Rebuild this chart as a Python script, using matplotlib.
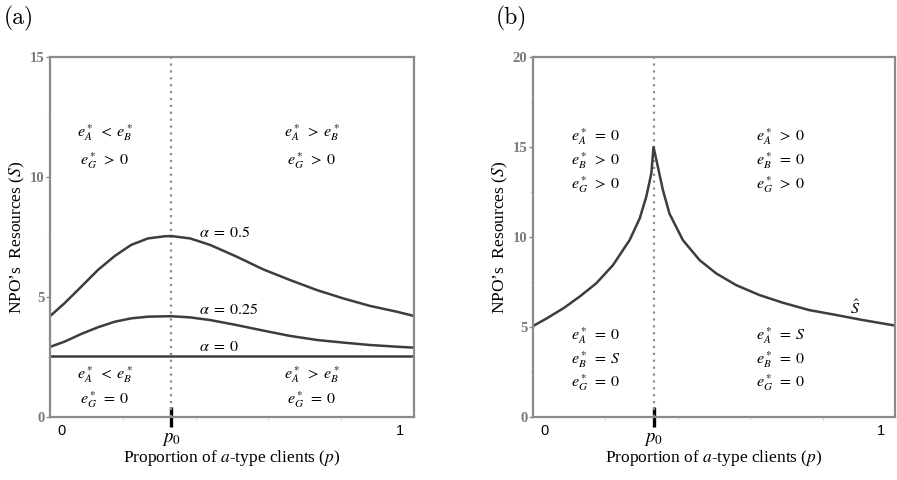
import matplotlib
matplotlib.use("Agg")
import matplotlib.pyplot as plt
from matplotlib.transforms import blended_transform_factory

plt.rcParams["mathtext.fontset"] = "stix"
plt.rcParams["font.family"] = ["Liberation Serif", "DejaVu Serif"]

P0 = 0.333

# panel (a): resources vs proportion for three alpha values
p_a05 = [0.0, 0.040, 0.086, 0.132, 0.178, 0.223, 0.269, 0.315, 0.333, 0.385, 0.440,
         0.513, 0.586, 0.659, 0.733, 0.806, 0.879, 0.952, 1.0]
s_a05 = [4.2, 4.74, 5.43, 6.13, 6.71, 7.17, 7.44, 7.53, 7.54, 7.44, 7.17,
         6.68, 6.15, 5.71, 5.29, 4.94, 4.63, 4.39, 4.21]
p_a025 = [0.0, 0.040, 0.086, 0.132, 0.178, 0.223, 0.269, 0.333, 0.385, 0.440,
          0.513, 0.586, 0.659, 0.733, 0.806, 0.879, 0.952, 1.0]
s_a025 = [2.92, 3.14, 3.46, 3.74, 3.97, 4.11, 4.18, 4.2, 4.15, 4.04,
          3.83, 3.6, 3.38, 3.21, 3.1, 3.0, 2.93, 2.89]
p_a0 = [0.0, 1.0]
s_a0 = [2.55, 2.55]

# panel (b): S-hat threshold
p_hat = [0.0, 0.038, 0.084, 0.129, 0.175, 0.221, 0.267, 0.295, 0.313, 0.327, 0.333,
         0.345, 0.359, 0.377, 0.414, 0.460, 0.506, 0.561, 0.625, 0.690, 0.763,
         0.837, 0.910, 1.0]
s_hat = [5.05, 5.48, 6.04, 6.69, 7.43, 8.44, 9.83, 11.04, 12.24, 13.54, 15.0,
         13.9, 12.6, 11.3, 9.83, 8.72, 7.98, 7.33, 6.78, 6.35, 5.94,
         5.67, 5.39, 5.08]

CURVE = "#3d3d3d"
FRAME = "#8a8a8a"
TXT = 11.5


def style_axes(ax, ymax, yticks):
    ax.set_xlim(0, 1)
    ax.set_ylim(0, ymax)
    for sp in ax.spines.values():
        sp.set_color(FRAME)
        sp.set_linewidth(1.6)
    ax.set_yticks(yticks)
    ax.set_yticklabels([str(t) for t in yticks], fontweight="bold", color="#7a7a7a", fontsize=10.5)
    ax.tick_params(axis="y", length=3, width=1, color=FRAME, pad=1)
    ax.set_yticks([t + 2.5 for t in yticks[:-1]], minor=True)
    ax.set_xticks([0.2, 0.4, 0.6, 0.8], minor=True)
    ax.tick_params(which="minor", length=2.5, width=0.6, color="#cccccc")
    ax.set_xticks([P0])
    ax.set_xticklabels(["$p_0$"], fontsize=13.5)
    ax.tick_params(axis="x", which="major", direction="inout", length=14, width=2.4,
                   color="black", pad=3)
    ax.axvline(P0, color="#8c8c8c", linestyle=(0, (1, 2.1)), linewidth=1.6)
    tr = blended_transform_factory(ax.transAxes, ax.transAxes)
    ax.text(0.033, -0.04, "0", transform=tr, ha="center", va="center",
            family="Liberation Sans", fontsize=10.5)
    ax.text(0.962, -0.04, "1", transform=tr, ha="center", va="center",
            family="Liberation Sans", fontsize=10.5)
    ax.set_xlabel("Proportion of $a$-type clients ($p$)", fontsize=12.5, labelpad=0)
    ax.set_ylabel("NPO\u2019s  Resources ($S$)", fontsize=12.5, labelpad=2)


fig = plt.figure(figsize=(8.97, 4.8), dpi=100)
ax1 = fig.add_axes([0.0557, 0.13125, 0.4058, 0.75])
ax2 = fig.add_axes([0.5942, 0.13125, 0.4035, 0.75])

# ---- panel (a)
style_axes(ax1, 15, [0, 5, 10, 15])
ax1.plot(p_a05, s_a05, color=CURVE, linewidth=1.8)
ax1.plot(p_a025, s_a025, color=CURVE, linewidth=1.8)
ax1.plot(p_a0, s_a0, color=CURVE, linewidth=1.8)

ax1.text(0.41, 7.65, r"$\alpha\;=\;0.5$", fontsize=TXT, ha="left", va="center")
ax1.text(0.41, 4.45, r"$\alpha\;=\;0.25$", fontsize=TXT, ha="left", va="center")
ax1.text(0.41, 2.9, r"$\alpha\;=\;0$", fontsize=TXT, ha="left", va="center")

ax1.text(0.15, 11.85, r"$e_A^*\;<\;e_B^*$", fontsize=TXT, ha="center", va="center")
ax1.text(0.15, 10.7, r"$e_G^*\;>\;0$", fontsize=TXT, ha="center", va="center")
ax1.text(0.72, 11.85, r"$e_A^*\;>\;e_B^*$", fontsize=TXT, ha="center", va="center")
ax1.text(0.72, 10.7, r"$e_G^*\;>\;0$", fontsize=TXT, ha="center", va="center")
ax1.text(0.15, 1.78, r"$e_A^*\;<\;e_B^*$", fontsize=TXT, ha="center", va="center")
ax1.text(0.15, 0.74, r"$e_G^*\;=\;0$", fontsize=TXT, ha="center", va="center")
ax1.text(0.72, 1.78, r"$e_A^*\;>\;e_B^*$", fontsize=TXT, ha="center", va="center")
ax1.text(0.72, 0.74, r"$e_G^*\;=\;0$", fontsize=TXT, ha="center", va="center")

# ---- panel (b)
style_axes(ax2, 20, [0, 5, 10, 15, 20])
ax2.plot(p_hat, s_hat, color=CURVE, linewidth=1.8)
ax2.text(0.89, 6.0, r"$\hat{S}$", fontsize=TXT, ha="center", va="center")

top_l = [r"$e_A^*\;=\;0$", r"$e_B^*\;>\;0$", r"$e_G^*\;>\;0$"]
top_r = [r"$e_A^*\;>\;0$", r"$e_B^*\;=\;0$", r"$e_G^*\;>\;0$"]
bot_l = [r"$e_A^*\;=\;0$", r"$e_B^*\;=\;S$", r"$e_G^*\;=\;0$"]
bot_r = [r"$e_A^*\;=\;S$", r"$e_B^*\;=\;0$", r"$e_G^*\;=\;0$"]
for i, y in enumerate([15.6, 14.25, 12.9]):
    ax2.text(0.105, y, top_l[i], fontsize=TXT, ha="left", va="center")
    ax2.text(0.615, y, top_r[i], fontsize=TXT, ha="left", va="center")
for i, y in enumerate([4.5, 3.2, 1.9]):
    ax2.text(0.105, y, bot_l[i], fontsize=TXT, ha="left", va="center")
    ax2.text(0.615, y, bot_r[i], fontsize=TXT, ha="left", va="center")

fig.text(0.004, 0.962, "(a)", family="cmr10", fontsize=17, ha="left", va="center")
fig.text(0.553, 0.962, "(b)", family="cmr10", fontsize=17, ha="left", va="center")

fig.savefig("out.png", dpi=100)
